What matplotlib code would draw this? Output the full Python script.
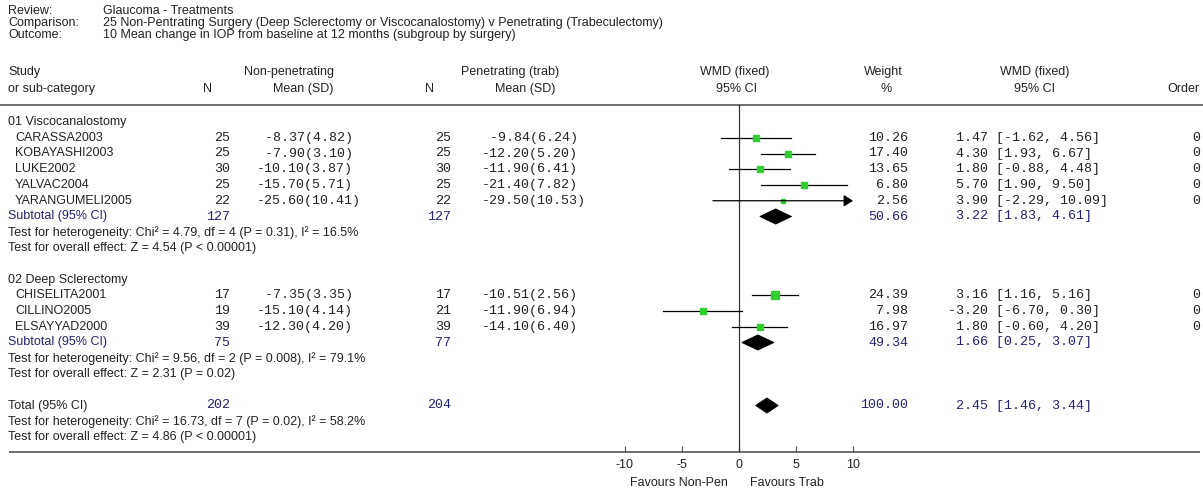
import numpy as np
import matplotlib
matplotlib.use("Agg")
import matplotlib.pyplot as plt
from matplotlib.patches import Polygon

# ---- review details ----
review = "Glaucoma - Treatments"
comparison = "25 Non-Pentrating Surgery (Deep Sclerectomy or Viscocanalostomy) v Penetrating (Trabeculectomy)"
outcome = "10 Mean change in IOP from baseline at 12 months (subgroup by surgery)"

# ---- study level data ----
group_names = ["01 Viscocanalostomy", "02 Deep Sclerectomy"]
study_group = [0, 0, 0, 0, 0, 1, 1, 1]
studies = ["CARASSA2003", "KOBAYASHI2003", "LUKE2002", "YALVAC2004",
           "YARANGUMELI2005", "CHISELITA2001", "CILLINO2005", "ELSAYYAD2000"]
n_nonpen = [25, 25, 30, 25, 22, 17, 19, 39]
mean_nonpen = [-8.37, -7.90, -10.10, -15.70, -25.60, -7.35, -15.10, -12.30]
sd_nonpen = [4.82, 3.10, 3.87, 5.71, 10.41, 3.35, 4.14, 4.20]
n_trab = [25, 25, 30, 25, 22, 17, 21, 39]
mean_trab = [-9.84, -12.20, -11.90, -21.40, -29.50, -10.51, -11.90, -14.10]
sd_trab = [6.24, 5.20, 6.41, 7.82, 10.53, 2.56, 6.94, 6.40]
weight = [10.26, 17.40, 13.65, 6.80, 2.56, 24.39, 7.98, 16.97]
wmd = [1.47, 4.30, 1.80, 5.70, 3.90, 3.16, -3.20, 1.80]
ci_low = [-1.62, 1.93, -0.88, 1.90, -2.29, 1.16, -6.70, -0.60]
ci_high = [4.56, 6.67, 4.48, 9.50, 10.09, 5.16, 0.30, 4.20]
order = [0, 0, 0, 0, 0, 0, 0, 0]

# ---- subgroup summaries ----
sub_n_nonpen = [127, 75]
sub_n_trab = [127, 77]
sub_weight = [50.66, 49.34]
sub_wmd = [3.22, 1.66]
sub_low = [1.83, 0.25]
sub_high = [4.61, 3.07]
sub_het = ["Chi² = 4.79, df = 4 (P = 0.31), I² = 16.5%",
           "Chi² = 9.56, df = 2 (P = 0.008), I² = 79.1%"]
sub_eff = ["Z = 4.54 (P < 0.00001)", "Z = 2.31 (P = 0.02)"]

# ---- overall summary ----
total_n_nonpen = 202
total_n_trab = 204
total_weight = 100.00
total_wmd = 2.45
total_low = 1.46
total_high = 3.44
total_het = "Chi² = 16.73, df = 7 (P = 0.02), I² = 58.2%"
total_eff = "Z = 4.86 (P < 0.00001)"

x_ticks = [-10, -5, 0, 5, 10]
x_limit = 10

# ---- figure setup (pixel based layout) ----
W, H, DPI = 1203, 493, 100
SANS = "Liberation Sans"
MONO = "Liberation Mono"
FS = 9.0
FM = 9.6
TXT = "#222222"
NAVY = "#24246e"
GREEN = "#33cc33"
ROW0, DY = 122.0, 15.75

fig = plt.figure(figsize=(W / DPI, H / DPI), dpi=DPI)
fig.patch.set_facecolor("white")
bg = fig.add_axes([0, 0, 1, 1])
bg.set_xlim(0, W)
bg.set_ylim(H, 0)
bg.axis("off")


def stext(x, y, s, ha="left", color=TXT):
    bg.text(x, y, s, ha=ha, va="center", fontsize=FS, family=SANS, color=color)


def mtext(x, y, s, ha="left", color=TXT):
    bg.text(x, y, s, ha=ha, va="center", fontsize=FM, family=MONO, color=color,
            fontweight="light")


def row_y(i):
    return ROW0 + DY * i


# header block
for y, lab, val in [(11, "Review:", review), (23, "Comparison:", comparison),
                    (35, "Outcome:", outcome)]:
    stext(8, y, lab)
    stext(103, y, val)

Y1, Y2 = 72, 89
stext(8, Y1, "Study")
stext(8, Y2, "or sub-category")
stext(289, Y1, "Non-penetrating", ha="center")
stext(207, Y2, "N", ha="center")
stext(333, Y2, "Mean (SD)", ha="right")
stext(510, Y1, "Penetrating (trab)", ha="center")
stext(430, Y2, "N", ha="center")
stext(555, Y2, "Mean (SD)", ha="right")
stext(735, Y1, "WMD (fixed)", ha="center")
stext(737, Y2, "95% CI", ha="center")
stext(883, Y1, "Weight", ha="center")
stext(886, Y2, "%", ha="center")
stext(1035, Y1, "WMD (fixed)", ha="center")
stext(1035, Y2, "95% CI", ha="center")
stext(1199, Y2, "Order", ha="right")

bg.plot([0, W], [105, 105], color="#555555", lw=1.2, solid_capstyle="butt")
bg.plot([9, 1200], [452, 452], color="#555555", lw=1.2, solid_capstyle="butt")

# ---- forest axes: -10 at px 625, 10 at px 853 ----
TOP, BOT = 105, 452
ax = fig.add_axes([625 / W, (H - BOT) / H, 228 / W, (BOT - TOP) / H])
ax.set_xlim(-x_limit, x_limit)
ax.set_ylim((BOT - ROW0) / DY, (TOP - ROW0) / DY)
ax.patch.set_alpha(0)
for sp in ax.spines.values():
    sp.set_visible(False)
ax.set_yticks([])
ax.set_xticks(x_ticks)
ax.set_xticklabels([str(t) for t in x_ticks], fontsize=FS, family=SANS, color=TXT)
ax.tick_params(axis="x", direction="in", length=4, width=0.8, color="#555555", pad=5)
ax.axvline(0, color="#333333", lw=0.9)

DIA_H = 0.48


def diamond(r, c, lo, hi):
    ax.add_patch(Polygon([[lo, r], [c, r - DIA_H], [hi, r], [c, r + DIA_H]],
                         closed=True, facecolor="black", edgecolor="black", lw=0.6))


def study_row(r, k):
    y = row_y(r)
    stext(15, y, studies[k])
    mtext(230, y, f"{n_nonpen[k]}", ha="right")
    mtext(256.7, y, f"{mean_nonpen[k]:6.2f}({sd_nonpen[k]:.2f})")
    mtext(451, y, f"{n_trab[k]}", ha="right")
    mtext(481.7, y, f"{mean_trab[k]:6.2f}({sd_trab[k]:.2f})")
    mtext(908, y, f"{weight[k]:.2f}", ha="right")
    mtext(948, y, f"{wmd[k]:5.2f} [{ci_low[k]:.2f}, {ci_high[k]:.2f}]")
    mtext(1200, y, f"{order[k]}", ha="right")
    lo = max(ci_low[k], -x_limit)
    hi = min(ci_high[k], x_limit)
    if ci_high[k] > x_limit:
        ax.annotate("", xy=(hi, r), xytext=(lo, r),
                    arrowprops=dict(arrowstyle="-|>,head_length=0.55,head_width=0.35",
                                    color="black", lw=0.9,
                                    mutation_scale=10, shrinkA=0, shrinkB=0))
    else:
        ax.plot([lo, hi], [r, r], color="black", lw=0.9)
    side_px = 2.2 + 1.11 * np.sqrt(weight[k])
    ax.plot([wmd[k]], [r], marker="s", markersize=side_px * 0.72,
            color=GREEN, markeredgecolor=GREEN, linestyle="none")


r = 0
for g, gname in enumerate(group_names):
    stext(8, row_y(r), gname)
    r += 1
    for k in [i for i, sg in enumerate(study_group) if sg == g]:
        study_row(r, k)
        r += 1
    y = row_y(r)
    stext(8, y, "Subtotal (95% CI)", color=NAVY)
    mtext(230, y, f"{sub_n_nonpen[g]}", ha="right", color=NAVY)
    mtext(451, y, f"{sub_n_trab[g]}", ha="right", color=NAVY)
    mtext(908, y, f"{sub_weight[g]:.2f}", ha="right", color=NAVY)
    mtext(948, y, f"{sub_wmd[g]:5.2f} [{sub_low[g]:.2f}, {sub_high[g]:.2f}]", color=NAVY)
    diamond(r, sub_wmd[g], sub_low[g], sub_high[g])
    r += 1
    stext(8, row_y(r), "Test for heterogeneity: " + sub_het[g])
    r += 1
    stext(8, row_y(r), "Test for overall effect: " + sub_eff[g])
    r += 2

y = row_y(r)
stext(8, y, "Total (95% CI)")
mtext(230, y, f"{total_n_nonpen}", ha="right", color=NAVY)
mtext(451, y, f"{total_n_trab}", ha="right", color=NAVY)
mtext(908, y, f"{total_weight:.2f}", ha="right", color=NAVY)
mtext(948, y, f"{total_wmd:5.2f} [{total_low:.2f}, {total_high:.2f}]", color=NAVY)
diamond(r, total_wmd, total_low, total_high)
r += 1
stext(8, row_y(r), "Test for heterogeneity: " + total_het)
r += 1
stext(8, row_y(r), "Test for overall effect: " + total_eff)

stext(728, 483, "Favours Non-Pen", ha="right")
stext(750, 483, "Favours Trab", ha="left")

fig.savefig("out.png", dpi=DPI, facecolor="white")
